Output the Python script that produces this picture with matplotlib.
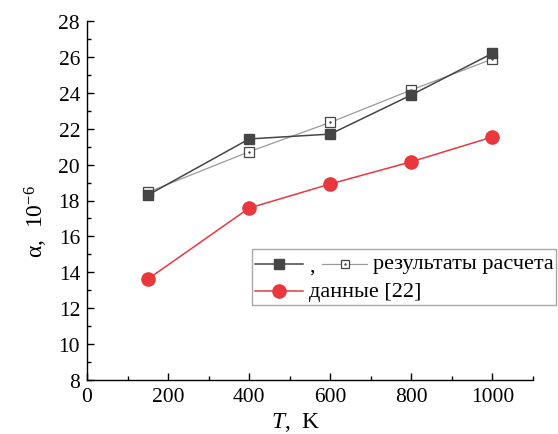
import matplotlib
matplotlib.use("Agg")
import matplotlib.pyplot as plt
from matplotlib.lines import Line2D
from matplotlib.patches import Rectangle
from matplotlib.ticker import MultipleLocator

plt.rcParams['font.family'] = ['Liberation Serif', 'DejaVu Serif']
plt.rcParams['mathtext.fontset'] = 'custom'
plt.rcParams['mathtext.rm'] = 'Liberation Serif'
plt.rcParams['mathtext.it'] = 'Liberation Serif:italic'

T = [150, 400, 600, 800, 1000]
calc_filled = [18.3, 21.43, 21.7, 23.88, 26.2]
calc_open = [18.46, 20.72, 22.35, 24.16, 25.88]
data22 = [13.62, 17.58, 18.92, 20.16, 21.54]

x_ticks = [0, 200, 400, 600, 800, 1000]
y_ticks = [8, 10, 12, 14, 16, 18, 20, 22, 24, 26, 28]

W, H = 558, 435
fig = plt.figure(figsize=(W / 100, H / 100), dpi=100)
ax = fig.add_axes([87 / W, 1 - 381 / H, (533 - 87) / W, (381 - 22) / H])

dark = '#454545'
light = '#9a9a9a'
red = '#e8383d'

ax.plot(T, calc_open, color=light, lw=0.9, marker='s', ms=7.5,
        mfc='white', mec=dark, mew=0.9, zorder=3)
ax.plot(T, calc_open, ls='none', marker='.', ms=1.5, color=dark, zorder=4)
ax.plot(T, calc_filled, color=dark, lw=1.1, marker='s', ms=7.5,
        mfc=dark, mec=dark, zorder=5)
ax.plot(T, data22, color=red, lw=1.1, marker='o', ms=9.5,
        mfc=red, mec=red, zorder=5)

ax.set_xlim(0, 1100)
ax.set_ylim(8, 28)
ax.set_xticks(x_ticks)
ax.set_yticks(y_ticks)
ax.xaxis.set_minor_locator(MultipleLocator(100))
ax.yaxis.set_minor_locator(MultipleLocator(1))
ax.tick_params(which='both', direction='in', labelsize=15.5, width=1, color='black')
ax.tick_params(which='major', length=5, pad=5)
ax.tick_params(which='minor', length=3)
ax.spines['top'].set_visible(False)
ax.spines['right'].set_visible(False)
for s in ('left', 'bottom'):
    ax.spines[s].set_linewidth(1)

fig.text(296 / W, 1 - 423 / H, '$T$,  K', ha='center', va='center', fontsize=17)
fig.text(36 / W, 1 - 222 / H, 'α,  10$^{-6}$', ha='center', va='center',
         fontsize=17, rotation=90)

# legend (manual, figure pixel coordinates)
def fx(px):
    return px / W

def fy(py):
    return 1 - py / H

fig.patches.append(Rectangle((fx(252), fy(306)), fx(556) - fx(252), fy(250) - fy(306),
                             transform=fig.transFigure, fill=True, fc='white',
                             ec='#a8a8a8', lw=1, zorder=10))
y1, y2 = 265, 292
fig.lines.append(Line2D([fx(255), fx(303)], [fy(y1), fy(y1)], transform=fig.transFigure,
                        color=dark, lw=1.1, zorder=11))
fig.lines.append(Line2D([fx(279)], [fy(y1)], transform=fig.transFigure, color=dark,
                        marker='s', ms=7.5, ls='none', zorder=12))
fig.text(fx(309), fy(y1 + 2), ',', fontsize=16, ha='left', va='center', zorder=12)
fig.lines.append(Line2D([fx(322), fx(367)], [fy(y1), fy(y1)], transform=fig.transFigure,
                        color=light, lw=0.9, zorder=11))
fig.lines.append(Line2D([fx(344.5)], [fy(y1)], transform=fig.transFigure, color=dark,
                        marker='s', ms=6, mfc='white', mew=0.9, ls='none', zorder=12))
fig.lines.append(Line2D([fx(344.5)], [fy(y1)], transform=fig.transFigure, color=dark,
                        marker='.', ms=1.5, ls='none', zorder=13))
fig.text(fx(373), fy(y1), 'результаты расчета', fontsize=16, ha='left', va='center', zorder=12)
fig.lines.append(Line2D([fx(255), fx(303)], [fy(y2), fy(y2)], transform=fig.transFigure,
                        color=red, lw=1.1, zorder=11))
fig.lines.append(Line2D([fx(279)], [fy(y2)], transform=fig.transFigure, color=red,
                        marker='o', ms=9.5, ls='none', zorder=12))
fig.text(fx(309), fy(y2), 'данные [22]', fontsize=16, ha='left', va='center', zorder=12)

fig.savefig('out.png', dpi=100)
